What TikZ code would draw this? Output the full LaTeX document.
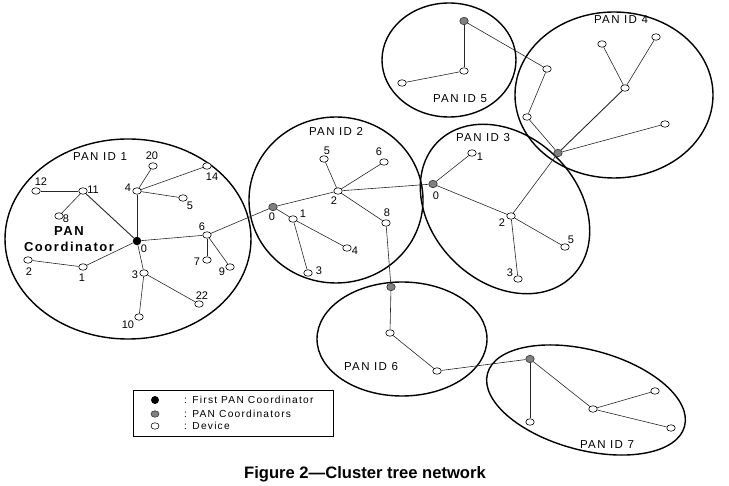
\documentclass[tikz,border=0pt]{standalone}
\usepackage{fontspec}
\setmainfont{Liberation Sans}
\newfontfamily\lsfont[LetterSpace=12]{Liberation Sans}
\usetikzlibrary{shapes.geometric}
\tikzset{
  dev/.style={ellipse, draw=black, line width=0.6pt, fill=white, minimum width=8.5pt, minimum height=6.5pt, inner sep=0pt},
  pcoord/.style={ellipse, draw=black!80, line width=0.6pt, fill=black!50, minimum width=8.5pt, minimum height=7.5pt, inner sep=0pt},
  firstc/.style={circle, fill=black, minimum size=8.5pt, inner sep=0pt},
  link/.style={draw=black!85, line width=0.6pt},
  cluster/.style={draw=black, line width=1.4pt},
  num/.style={inner sep=0pt, font=\fontsize{11}{13}\selectfont},
  panlbl/.style={inner sep=0pt, font=\lsfont\fontsize{11.5}{13}\selectfont},
  legtxt/.style={inner sep=0pt, anchor=west, font=\lsfont\fontsize{10.2}{12}\selectfont},
}
\begin{document}
\begin{tikzpicture}[x=1pt,y=-1pt]
\useasboundingbox (0,0) rectangle (729,486);
% clusters
\draw[cluster] (128,239) ellipse [x radius=123, y radius=100];
\draw[cluster] (336,200) ellipse [x radius=87, y radius=83];
\draw[cluster, rotate around={-45:(505,209)}] (505,209) ellipse [x radius=95, y radius=73];
\draw[cluster] (614,95) ellipse [x radius=99, y radius=83];
\draw[cluster] (449,60) ellipse [x radius=67, y radius=57];
\draw[cluster] (402,339) ellipse [x radius=85, y radius=57];
\draw[cluster, rotate around={-15:(586,400)}] (586,400) ellipse [x radius=102, y radius=50];
% PAN 1
\node[dev] (a4) at (137,191) {};
\node[dev] (a20) at (153,166) {};
\node[dev] (a14) at (207,166) {};
\node[dev] (a5) at (183,198) {};
\node[dev] (a11) at (83,191) {};
\node[dev] (a12) at (36,191) {};
\node[dev] (a8) at (59,216) {};
\node[dev] (a6) at (207,235) {};
\node[dev] (a7) at (207,260) {};
\node[dev] (a9) at (230,267) {};
\node[dev] (a3) at (144,273) {};
\node[dev] (a22) at (199,304) {};
\node[dev] (a10) at (139,317) {};
\node[dev] (a1) at (83,267) {};
\node[dev] (a2) at (28,260) {};
% PAN 2
\node[pcoord] (b0) at (273,207) {};
\node[dev] (b2) at (338,191) {};
\node[dev] (b5) at (324,159) {};
\node[dev] (b6) at (384,162) {};
\node[dev] (b1) at (293,219) {};
\node[dev] (b4) at (347,248) {};
\node[dev] (b3) at (308,273) {};
\node[dev] (b8) at (386,223) {};
% PAN 3
\node[pcoord] (c0) at (433,184) {};
\node[dev] (c1) at (472,153) {};
\node[dev] (c2) at (511,216) {};
\node[dev] (c5) at (565,247) {};
\node[dev] (c3) at (518,279) {};
% PAN 4
\node[pcoord] (d0) at (558,153) {};
\node[dev] (da) at (547,69) {};
\node[dev] (db) at (527,117) {};
\node[dev] (dc) at (625,88) {};
\node[dev] (dd) at (602,44) {};
\node[dev] (de) at (656,37) {};
\node[dev] (df) at (665,124) {};
% PAN 5
\node[pcoord] (e0) at (464,21) {};
\node[dev] (ea) at (464,71) {};
\node[dev] (eb) at (402,83) {};
% PAN 6
\node[pcoord] (f0) at (391,287) {};
\node[dev] (fa) at (390,333) {};
\node[dev] (fb) at (437,371) {};
% PAN 7
\node[pcoord] (g0) at (530,359) {};
\node[dev] (ga) at (530,422) {};
\node[dev] (gb) at (593,409) {};
\node[dev] (gc) at (655,391) {};
\node[dev] (gd) at (671,428) {};
% first coordinator
\node[firstc] (a0) at (137,241) {};
% links
\draw[link] (a0) -- (a4);
\draw[link] (a4) -- (a20);
\draw[link] (a4) -- (a14);
\draw[link] (a4) -- (a5);
\draw[link, line width=0.9pt] (a0) -- (a11);
\draw[link] (a11) -- (a12);
\draw[link] (a11) -- (a8);
\draw[link] (a0) -- (a6);
\draw[link] (a6) -- (a7);
\draw[link] (a6) -- (a9);
\draw[link] (a0) -- (a3);
\draw[link] (a3) -- (a22);
\draw[link] (a3) -- (a10);
\draw[link] (a0) -- (a1);
\draw[link] (a1) -- (a2);
\draw[link] (a6) -- (b0);
\draw[link] (b0) -- (b2);
\draw[link] (b2) -- (b5);
\draw[link] (b2) -- (b6);
\draw[link] (b2) -- (b8);
\draw[link] (b0) -- (b1);
\draw[link] (b1) -- (b4);
\draw[link] (b1) -- (b3);
\draw[link] (b8) -- (f0);
\draw[link] (b2) -- (c0);
\draw[link] (c0) -- (c1);
\draw[link] (c0) -- (c2);
\draw[link] (c2) -- (c5);
\draw[link] (c2) -- (c3);
\draw[link] (c2) -- (d0);
\draw[link] (d0) -- (db);
\draw[link] (db) -- (da);
\draw[link] (da) -- (e0);
\draw[link, line width=0.9pt] (d0) -- (dc);
\draw[link] (dc) -- (dd);
\draw[link] (dc) -- (de);
\draw[link] (d0) -- (df);
\draw[link] (e0) -- (ea);
\draw[link] (ea) -- (eb);
\draw[link] (f0) -- (fa);
\draw[link] (fa) -- (fb);
\draw[link] (fb) -- (g0);
\draw[link] (g0) -- (ga);
\draw[link] (g0) -- (gb);
\draw[link] (gb) -- (gc);
\draw[link] (gb) -- (gd);
% labels PAN 1
\node[num] (la0) at (144,249) {0};
\node[num] (la4) at (128,188) {4};
\node[num] (la20) at (152,156) {20};
\node[num] (la14) at (212,177) {14};
\node[num] (la5) at (190,206) {5};
\node[num] (la11) at (93,190) {11};
\node[num] (la12) at (41,182) {12};
\node[num] (la8) at (66,219) {8};
\node[num] (la6) at (202,227) {6};
\node[num] (la7) at (197,262) {7};
\node[num] (la9) at (222,272) {9};
\node[num] (la3) at (135,275) {3};
\node[num] (la22) at (202,296) {22};
\node[num] (la10) at (128,325) {10};
\node[num] (la1) at (82,278) {1};
\node[num] (la2) at (29,272) {2};
% labels PAN 2
\node[num] (lb0) at (272,217) {0};
\node[num] (lb2) at (334,201) {2};
\node[num] (lb5) at (327,151) {5};
\node[num] (lb6) at (379,152) {6};
\node[num] (lb1) at (303,214) {1};
\node[num] (lb4) at (355,251) {4};
\node[num] (lb3) at (319,271) {3};
\node[num] (lb8) at (387,213) {8};
% labels PAN 3
\node[num] (lc0) at (436,196) {0};
\node[num] (lc1) at (480,157) {1};
\node[num] (lc2) at (502,223) {2};
\node[num] (lc5) at (571,240) {5};
\node[num] (lc3) at (510,273) {3};
% PAN id labels
\node[panlbl] (p1) at (100,157) {PAN ID 1};
\node[panlbl] (p2) at (336,131) {PAN ID 2};
\node[panlbl] (p3) at (483,138) {PAN ID 3};
\node[panlbl] (p4) at (621,20) {PAN ID 4};
\node[panlbl] (p5) at (460,99) {PAN ID 5};
\node[panlbl] (p6) at (371,367) {PAN ID 6};
\node[panlbl] (p7) at (607,445) {PAN ID 7};
\node[inner sep=0pt, align=center, font=\lsfont\bfseries\fontsize{13}{16}\selectfont] (pc) at (69,239) {PAN\\Coordinator};
% legend
\node[draw=black, line width=0.6pt, minimum width=200pt, minimum height=46pt, inner sep=0pt] (leg) at (233,413) {};
\node[firstc, minimum size=8pt] (lk1) at (155,400) {};
\node[pcoord, minimum width=8pt, minimum height=6.5pt] (lk2) at (155,414) {};
\node[dev, minimum width=8pt, minimum height=6.5pt] (lk3) at (155,426) {};
\node[legtxt] (lt1) at (184,400) {: First PAN Coordinator};
\node[legtxt] (lt2) at (184,414) {: PAN Coordinators};
\node[legtxt] (lt3) at (184,426) {: Device};
% caption
\node[inner sep=0pt, font=\bfseries\fontsize{16.6}{19}\selectfont] (cap) at (365,474) {Figure 2\textemdash Cluster tree network};
\end{tikzpicture}
\end{document}
